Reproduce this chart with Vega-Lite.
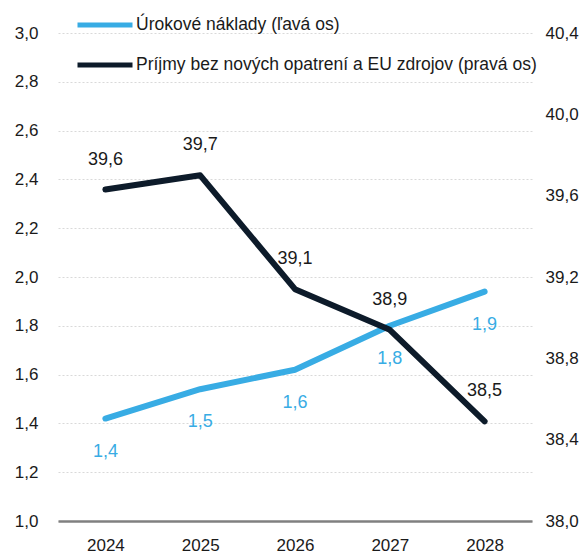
{
  "$schema": "https://vega.github.io/schema/vega-lite/v6.json",
  "width": 474,
  "height": 488,
  "autosize": "none",
  "padding": {"left": 58, "top": 33, "right": 56, "bottom": 32},
  "background": "white",
  "config": {
    "locale": {"number": {"decimal": ",", "thousands": " ", "grouping": [3], "currency": ["", " €"]}},
    "view": {"stroke": null},
    "font": "Liberation Sans",
    "axis": {"labelFont": "Liberation Sans", "labelFontSize": 17, "labelColor": "#1a1a1a", "title": null, "ticks": false, "domain": false}
  },
  "data": {"values": [
    {"series": "Úrokové náklady (ľavá os)", "year": "2024", "value": 1.42},
    {"series": "Úrokové náklady (ľavá os)", "year": "2025", "value": 1.54},
    {"series": "Úrokové náklady (ľavá os)", "year": "2026", "value": 1.62},
    {"series": "Úrokové náklady (ľavá os)", "year": "2027", "value": 1.8},
    {"series": "Úrokové náklady (ľavá os)", "year": "2028", "value": 1.94},
    {"series": "Príjmy bez nových opatrení a EU zdrojov (pravá os)", "year": "2024", "value": 39.63},
    {"series": "Príjmy bez nových opatrení a EU zdrojov (pravá os)", "year": "2025", "value": 39.7},
    {"series": "Príjmy bez nových opatrení a EU zdrojov (pravá os)", "year": "2026", "value": 39.14},
    {"series": "Príjmy bez nových opatrení a EU zdrojov (pravá os)", "year": "2027", "value": 38.94},
    {"series": "Príjmy bez nových opatrení a EU zdrojov (pravá os)", "year": "2028", "value": 38.49}
  ]},
  "layer": [
    {
      "transform": [{"filter": "datum.series === 'Úrokové náklady (ľavá os)'"}],
      "encoding": {
        "x": {"field": "year", "type": "ordinal", "scale": {"type": "point", "padding": 0.5},
              "axis": {"labelAngle": 0, "domain": true, "domainColor": "#808080", "domainWidth": 2.5, "labelPadding": 16, "grid": false}},
        "y": {"field": "value", "type": "quantitative",
              "scale": {"domain": [1, 3], "nice": false, "zero": false},
              "axis": {"orient": "left", "values": [1, 1.2, 1.4, 1.6, 1.8, 2, 2.2, 2.4, 2.6, 2.8, 3], "format": ".1f",
                       "labelPadding": 20, "grid": true, "gridColor": "#d9d9d9", "gridDash": [2, 2], "gridWidth": 1}}
      },
      "layer": [
        {"mark": {"type": "line", "strokeWidth": 6, "strokeCap": "round", "strokeJoin": "round"},
         "encoding": {"color": {"field": "series", "type": "nominal",
            "scale": {"domain": ["Úrokové náklady (ľavá os)", "Príjmy bez nových opatrení a EU zdrojov (pravá os)"], "range": ["#38ace4", "#0d1b2a"]},
            "legend": {"title": null, "orient": "none", "legendX": 17, "legendY": -38, "symbolType": "stroke", "symbolSize": 3025, "symbolStrokeWidth": 5,
                       "labelFontSize": 17.5, "labelFont": "Liberation Sans", "labelColor": "#1a1a1a", "labelOffset": 1, "rowPadding": -19, "labelLimit": 600}}}},
        {"mark": {"type": "text", "dy": 33, "fontSize": 18, "color": "#38ace4", "font": "Liberation Sans"},
         "encoding": {"text": {"field": "value", "type": "quantitative", "format": ".1f"}}}
      ]
    },
    {
      "transform": [{"filter": "datum.series !== 'Úrokové náklady (ľavá os)'"}],
      "encoding": {
        "x": {"field": "year", "type": "ordinal", "scale": {"type": "point", "padding": 0.5}},
        "y": {"field": "value", "type": "quantitative",
              "scale": {"domain": [38, 40.4], "nice": false, "zero": false},
              "axis": {"orient": "right", "values": [38, 38.4, 38.8, 39.2, 39.6, 40, 40.4], "format": ".1f", "labelPadding": 13, "grid": false}}
      },
      "layer": [
        {"mark": {"type": "line", "strokeWidth": 6, "strokeCap": "round", "strokeJoin": "round"},
         "encoding": {"color": {"field": "series", "type": "nominal"}}},
        {"mark": {"type": "text", "dy": -30, "fontSize": 18, "color": "#1a1a1a", "font": "Liberation Sans"},
         "encoding": {"text": {"field": "value", "type": "quantitative", "format": ".1f"}}}
      ]
    }
  ],
  "resolve": {"scale": {"y": "independent"}}
}
